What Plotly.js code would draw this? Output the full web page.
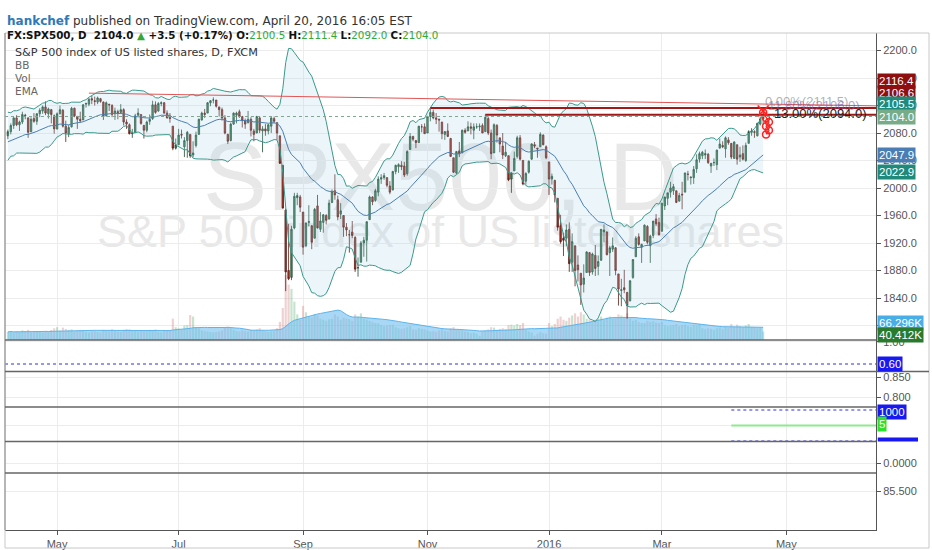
<!DOCTYPE html>
<html>
<head>
<meta charset="utf-8">
<script src="https://cdn.plot.ly/plotly-3.0.1.min.js"></script>
<style>
  html, body { margin: 0; padding: 0; background: #fff; }
  #chart { width: 932px; height: 550px; }
</style>
</head>
<body>
<div id="chart"></div>
<script>
// FX:SPX500 daily, 8 Apr 2015 - 20 Apr 2016 (one row per month)
const firstDay = '2015-04-08';
const lastDay = '2016-04-20';
const holidays = ['2015-05-25', '2015-07-03', '2015-09-07', '2015-11-26', '2015-12-25',
  '2016-01-01', '2016-01-18', '2016-02-15', '2016-03-25', '2016-05-30'];

// closes before the visible range, only used to warm up BB / EMA
const warmupClose = [2044, 2040, 2066, 2053, 2081, 2075, 2099, 2090, 2108, 2104,
  2092, 2062, 2057, 2061, 2086, 2068, 2059, 2066, 2081, 2076];

const open = [
  2076,2082,2091,2102,2092,2096,2106,2102,2082,2101,2097,2108,2112,2118,2108,2114,2105,
  2086,2108,2113,2090,2079,2089,2116,2104,2100,2099,2122,2122,2130,2127,2125,2130,2125,2105,2122,2120,
  2108,2111,2110,2114,2096,2092,2079,2081,2106,2107,2091,2084,2097,2101,2121,2112,2123,2124,2109,2103,2090,2058,
  2063,2078,2060,2069,2078,2048,2062,2078,2099,2109,2109,2124,2128,2128,2118,2114,2102,2078,2069,2093,2106,2111,
  2104,2098,2095,2100,2083,2080,2102,2083,2086,2083,2090,2101,2095,2076,2033,1968,1880,1870,1942,1986,1987,
  1965,1916,1950,1945,1927,1974,1940,1950,1960,1955,1979,1996,1983,1962,1960,1943,1932,1936,1928,1884,1892,
  1920,1924,1954,1987,1982,1994,2013,2015,2015,2003,1997,2024,2031,2033,2032,2021,2056,2075,2069,2066,2089,2089,
  2080,2104,2110,2102,2100,2096,2078,2083,2072,2044,2022,2054,2051,2084,2083,2089,2084,2089,2089,2091,
  2082,2101,2080,2051,2091,2073,2061,2047,2047,2013,2025,2046,2073,2040,2010,2023,2042,2063,2058,2060,2077,2060,
  2038,2013,2011,1985,1945,1927,1927,1940,1892,1916,1888,1876,1860,1877,1906,1878,1902,1886,1895,
  1936,1936,1906,1911,1913,1875,1851,1855,1848,1836,1870,1900,1929,1914,1923,1944,1916,1931,1955,1950,
  1937,1974,1985,1994,1996,1996,1981,1991,1994,2020,2015,2015,2028,2042,2047,2048,2049,2032,2037,2034,2058,2062,
  2057,2070,2065,2043,2063,2045,2050,2040,2065,2081,2082,2076,2093,2100.5
];
const high = [
  2085,2094,2103,2106,2098,2111,2108,2103,2103,2109,2109,2116,2120,2126,2117,2115,2107,
  2110,2120,2115,2098,2092,2118,2117,2105,2111,2122,2124,2131,2134,2133,2133,2131,2126,2126,2122,2122,
  2117,2114,2122,2116,2100,2094,2086,2108,2116,2107,2092,2098,2107,2127,2126,2125,2126,2125,2113,2109,2090,2072,
  2086,2085,2074,2083,2078,2068,2082,2101,2111,2115,2125,2128,2132,2128,2118,2117,2106,2079,2095,2110,2111,2114,
  2105,2101,2112,2103,2086,2105,2104,2090,2093,2093,2103,2104,2096,2076,2033,1970,1948,1945,1993,1993,1990,
  1965,1950,1975,1946,1971,1990,1965,1962,1962,1983,1998,2020,1989,1978,1960,1949,1939,1952,1930,1899,1923,
  1929,1951,1989,1988,1999,2017,2020,2022,2016,2010,2025,2034,2036,2039,2038,2055,2080,2076,2070,2090,2093,2094,
  2105,2116,2114,2109,2101,2096,2083,2094,2073,2044,2054,2067,2085,2087,2097,2095,2094,2094,2094,2094,
  2107,2104,2085,2094,2093,2073,2080,2067,2047,2023,2053,2076,2077,2041,2023,2040,2065,2067,2058,2081,2078,2062,
  2038,2021,2012,1985,1961,1935,1947,1950,1934,1916,1902,1876,1889,1908,1907,1906,1917,1902,1940,
  1947,1937,1916,1928,1914,1875,1868,1881,1849,1866,1896,1930,1934,1919,1947,1946,1932,1952,1962,1957,
  1978,1987,1993,2009,2006,1996,1993,2009,2022,2025,2016,2032,2049,2053,2054,2056,2051,2036,2043,2056,2072,2068,
  2075,2074,2065,2068,2063,2060,2062,2066,2084,2087,2084,2095,2104,2111.4
];
const low = [
  2071,2078,2086,2090,2083,2093,2100,2073,2081,2095,2092,2103,2108,2106,2101,2094,2079,
  2085,2107,2088,2067,2074,2088,2103,2086,2095,2099,2117,2119,2122,2120,2122,2124,2099,2104,2112,2103,
  2099,2100,2109,2091,2086,2078,2073,2080,2104,2092,2072,2081,2092,2099,2108,2111,2119,2108,2101,2095,2055,2056,
  2063,2072,2045,2044,2044,2045,2059,2078,2098,2102,2109,2119,2123,2117,2104,2098,2078,2064,2068,2092,2094,2102,
  2088,2086,2094,2075,2068,2080,2080,2052,2076,2078,2080,2094,2070,2035,1970,1850,1866,1866,1940,1975,1965,
  1903,1914,1944,1911,1927,1941,1936,1935,1947,1954,1978,1983,1953,1955,1929,1930,1906,1927,1878,1871,1892,
  1900,1893,1954,1975,1980,1988,2006,2012,2001,1991,1997,2020,2022,2026,2016,2018,2056,2068,2058,2066,2081,2079,
  2080,2097,2100,2093,2082,2071,2070,2074,2045,2022,2020,2045,2051,2079,2083,2078,2071,2086,2083,2080,
  2082,2077,2042,2051,2066,2052,2042,2045,2010,1993,2025,2043,2040,2004,2005,2021,2041,2058,2044,2060,2062,2042,
  1990,2005,1979,1938,1919,1901,1916,1878,1878,1857,1864,1830,1848,1877,1872,1874,1872,1873,1894,
  1921,1902,1872,1907,1873,1829,1828,1847,1810,1835,1868,1900,1916,1891,1923,1918,1891,1927,1945,1931,
  1937,1968,1975,1986,1990,1978,1980,1969,1994,2011,2005,2006,2022,2037,2042,2042,2035,2022,2032,2026,2058,2058,
  2044,2063,2042,2043,2034,2038,2040,2038,2065,2076,2073,2075,2091,2092
];
const close = [
  2082,2091,2102,2092,2096,2107,2105,2081,2100,2097,2108,2113,2118,2109,2115,2107,2086,
  2108,2114,2090,2080,2088,2116,2105,2100,2098,2121,2123,2129,2128,2126,2131,2126,2104,2124,2121,2107,
  2112,2110,2114,2096,2093,2079,2080,2105,2109,2094,2084,2096,2100,2121,2110,2123,2124,2109,2102,2101,2058,2063,
  2077,2077,2069,2081,2047,2051,2077,2100,2109,2107,2124,2127,2128,2119,2114,2102,2080,2068,2093,2109,2109,2104,
  2098,2093,2100,2084,2078,2104,2084,2086,2083,2092,2102,2097,2080,2036,1971,1878,1868,1940,1988,1989,1972,
  1914,1949,1951,1921,1969,1942,1952,1961,1953,1978,1995,1990,1958,1967,1943,1939,1932,1931,1882,1884,1920,
  1924,1951,1987,1980,1996,2013,2015,2018,2004,1994,2024,2033,2034,2031,2019,2053,2075,2071,2066,2090,2089,2079,
  2104,2110,2102,2100,2099,2079,2082,2075,2046,2023,2053,2050,2084,2081,2089,2087,2089,2089,2090,2080,
  2103,2080,2050,2092,2077,2064,2048,2052,2012,2022,2043,2073,2042,2006,2021,2039,2064,2061,2057,2078,2063,2044,
  2013,2017,1990,1943,1922,1924,1939,1890,1922,1880,1881,1859,1869,1907,1877,1904,1883,1893,1940,
  1939,1903,1913,1916,1880,1853,1852,1852,1829,1865,1896,1927,1918,1918,1946,1921,1930,1952,1948,1932,
  1978,1987,1993,2000,2002,1979,1989,1990,2022,2020,2016,2027,2041,2050,2052,2050,2037,2036,2037,2055,2064,2060,
  2073,2066,2045,2067,2042,2048,2042,2062,2082,2083,2081,2094,2100.5,2104
];
// volume, thousands
const volume = [
  38,42,35,40,37,45,41,48,36,39,42,40,35,43,41,47,55,
  60,45,58,52,48,50,40,44,47,45,38,36,40,42,38,35,48,44,40,50,
  42,40,38,48,52,50,45,47,40,44,45,42,48,46,50,38,36,44,42,46,100,60,
  55,50,68,70,117,110,60,55,45,42,40,38,36,38,40,45,58,62,55,48,42,40,
  45,42,40,48,46,50,55,44,42,38,40,42,55,85,150,305,260,240,180,120,95,
  160,130,110,105,120,115,100,95,90,98,100,120,110,95,105,100,98,90,120,110,125,
  100,95,90,85,80,78,70,65,68,70,72,60,55,52,55,60,65,50,48,55,52,50,
  45,40,42,38,45,50,42,40,55,60,52,48,45,40,38,32,35,30,20,40,
  45,50,60,58,48,52,55,50,70,72,68,75,70,80,48,40,35,20,30,38,32,30,
  80,65,75,100,110,95,90,105,115,125,110,130,120,100,95,90,95,100,110,
  95,105,110,100,100,120,115,110,125,100,90,95,85,80,80,90,85,88,82,80,
  85,70,65,68,70,75,65,70,72,65,62,70,68,75,55,50,55,52,48,55,58,52,
  60,58,75,62,72,65,60,68,75,62,60,55,58,40
];

// drawings on the price pane
const trendX = ['2015-05-18', '2016-06-15'];
const trendY = [2138, 2119.5];
const resistStart = ['2015-11-03', '2015-12-01'];
const resistLevel = [2116.4, 2106.6];
const fibLabels = ['0.00%(2111.5)', '11.80%(2106.0)', '13.00%(2094.0)'];
const fibLevels = [2111.5, 2106.0, 2094.0];
const fibX = ['2016-04-20', '2016-04-21', '2016-04-25'];
const scribbleX = ['2016-04-20', '2016-04-21', '2016-04-22', '2016-04-21', '2016-04-22', '2016-04-21'];
const scribbleY = [2110, 2102, 2096, 2090, 2084, 2078];

// lower panes
const pane2Level = 0.60;
const pane4Start = '2016-04-05';
const pane4Levels = [1000, 5, -1000];

const monthTicks = ['2015-05-01', '2015-07-01', '2015-09-01', '2015-11-02', '2016-01-04', '2016-03-01', '2016-05-02'];
const monthText = ['May', 'Jul', 'Sep', 'Nov', '2016', 'Mar', 'May'];

const bbLen = 20;
const emaLen = 30;
const volMaLen = 20;

function tradingDays(from, to, skip) {
  const out = [];
  const d = new Date(from + 'T00:00:00Z');
  const end = new Date(to + 'T00:00:00Z');
  while (d <= end) {
    const s = d.toISOString().slice(0, 10);
    const wd = d.getUTCDay();
    if (wd !== 0 && wd !== 6 && skip.indexOf(s) < 0) out.push(s);
    d.setUTCDate(d.getUTCDate() + 1);
  }
  return out;
}

const dates = tradingDays(firstDay, lastDay, holidays);
[open, high, low, close, volume].forEach(function (a) {
  if (a.length !== dates.length) throw new Error('length ' + a.length + ' vs ' + dates.length);
});

// Bollinger bands (20, 2) and EMA
const allClose = warmupClose.concat(close);
const bbUpper = [], bbLower = [], emaLine = [];
let ema = allClose[0];
const k = 2 / (emaLen + 1);
allClose.forEach(function (c, i) {
  ema = i === 0 ? c : c * k + ema * (1 - k);
  if (i < warmupClose.length) return;
  const win = allClose.slice(Math.max(0, i - bbLen + 1), i + 1);
  const m = win.reduce((s, v) => s + v, 0) / win.length;
  const sd = Math.sqrt(win.reduce((s, v) => s + (v - m) * (v - m), 0) / win.length);
  bbUpper.push(m + 2 * sd);
  bbLower.push(m - 2 * sd);
  emaLine.push(ema);
});

const volMa = volume.map(function (v, i) {
  const win = volume.slice(Math.max(0, i - volMaLen + 1), i + 1);
  return win.reduce((s, x) => s + x, 0) / win.length;
});
const volColors = close.map((c, i) => c >= open[i] ? 'rgba(110,185,130,0.4)' : 'rgba(215,140,140,0.4)');

const xStart = '2015-04-07';
const xEnd = '2016-06-15';
const lastClose = close[close.length - 1];

// pixel helpers for layout positions (plot area is x 5..876, y 33..530)
const px = x => (x - 5) / 871;
const py = y => (530 - y) / 497;

const teal = '#3b998b';
const darkRed = '#a01818';
const tickFont = {family: 'Liberation Sans, Arial, sans-serif', size: 11, color: '#555'};

const traces = [
  {x: dates, y: volume, type: 'bar', yaxis: 'y', marker: {color: volColors}, hoverinfo: 'skip'},
  {x: dates, y: volMa, type: 'scatter', mode: 'lines', yaxis: 'y', fill: 'tozeroy',
    fillcolor: 'rgba(115,192,240,0.62)', line: {color: 'rgba(95,180,235,1)', width: 1}, hoverinfo: 'skip'},
  {x: dates, y: bbLower, type: 'scatter', mode: 'lines', yaxis: 'y2', line: {color: teal, width: 1}, hoverinfo: 'skip'},
  {x: dates, y: bbUpper, type: 'scatter', mode: 'lines', yaxis: 'y2', fill: 'tonexty',
    fillcolor: 'rgba(170,215,230,0.22)', line: {color: teal, width: 1}, hoverinfo: 'skip'},
  {x: dates, y: emaLine, type: 'scatter', mode: 'lines', yaxis: 'y2', line: {color: '#4a7fb5', width: 1}, hoverinfo: 'skip'},
  {x: dates, open: open, high: high, low: low, close: close, type: 'candlestick', yaxis: 'y2',
    increasing: {line: {color: '#1f4a30', width: 0.8}, fillcolor: '#3f9263'},
    decreasing: {line: {color: '#5a1a14', width: 0.8}, fillcolor: '#bb3327'},
    whiskerwidth: 0, hoverinfo: 'skip'},
  {x: trendX, y: trendY, type: 'scatter', mode: 'lines', yaxis: 'y2', line: {color: '#e25555', width: 1}},
  {x: [resistStart[0], xEnd], y: [resistLevel[0], resistLevel[0]], type: 'scatter', mode: 'lines', yaxis: 'y2', line: {color: darkRed, width: 2}},
  {x: [resistStart[1], xEnd], y: [resistLevel[1], resistLevel[1]], type: 'scatter', mode: 'lines', yaxis: 'y2', line: {color: darkRed, width: 2}},
  {x: scribbleX, y: scribbleY, type: 'scatter', mode: 'lines+markers', yaxis: 'y2',
    line: {color: '#ff2020', width: 1.2}, marker: {symbol: 'circle-open', size: 7, color: '#ff2020', line: {width: 1.5}}},
  {x: [scribbleX[0]], y: [scribbleY[0] + 2], type: 'scatter', mode: 'markers', yaxis: 'y2',
    marker: {symbol: 'x-thin-open', size: 11, color: '#ff2020', line: {width: 1.5, color: '#ff2020'}}},
  {x: [xStart, xEnd], y: [pane2Level, pane2Level], type: 'scatter', mode: 'lines', yaxis: 'y3', line: {color: '#3030d0', width: 1, dash: 'dot'}},
  {x: [xStart], y: [0.82], type: 'scatter', mode: 'markers', yaxis: 'y4', marker: {opacity: 0}},
  {x: [pane4Start, xEnd], y: [pane4Levels[0], pane4Levels[0]], type: 'scatter', mode: 'lines', yaxis: 'y5', line: {color: '#3030d0', width: 1, dash: 'dot'}},
  {x: [pane4Start, xEnd], y: [pane4Levels[1], pane4Levels[1]], type: 'scatter', mode: 'lines', yaxis: 'y5', line: {color: '#8eea8e', width: 2}},
  {x: [pane4Start, xEnd], y: [pane4Levels[2], pane4Levels[2]], type: 'scatter', mode: 'lines', yaxis: 'y5', line: {color: '#3030d0', width: 1, dash: 'dot'}},
  {x: [xStart], y: [0], type: 'scatter', mode: 'markers', yaxis: 'y6', marker: {opacity: 0}},
  {x: [xStart], y: [85.5], type: 'scatter', mode: 'markers', yaxis: 'y7', marker: {opacity: 0}}
];

function paneAxis(domain, range, tickvals, fmt) {
  return {
    domain: domain, range: range, anchor: 'x', side: 'right', tickvals: tickvals, tickformat: fmt,
    showgrid: true, gridcolor: '#ececec', zeroline: false, ticks: 'outside', ticklen: 4,
    tickcolor: '#555', tickfont: tickFont, showline: true, linecolor: '#555', fixedrange: true
  };
}

function tag(text, y, yref, bg, shift) {
  return {
    text: text, x: 1, xref: 'paper', xanchor: 'left', xshift: 1, y: y, yref: yref, yshift: shift || 0,
    showarrow: false, bgcolor: bg, borderpad: 1,
    font: {family: 'Liberation Sans, Arial, sans-serif', size: 11.5, color: '#fff'}
  };
}

const green = '#34a834';

const annotations = [
  {text: "<b><span style='color:#2d7ab8'>hankchef</span></b> published on TradingView.com, April 20, 2016 16:05 EST",
    x: 0, xref: 'paper', xanchor: 'left', y: py(12), yref: 'paper', showarrow: false,
    font: {family: 'DejaVu Sans, Verdana, sans-serif', size: 12, color: '#333'}},
  {text: "<b>FX:SPX500, D  2104.0 <span style='color:" + green + "'>▲</span> +3.5 (+0.17%) O:</b><span style='color:" + green + "'>2100.5</span>" +
    " <b>H:</b><span style='color:" + green + "'>2111.4</span> <b>L:</b><span style='color:" + green + "'>2092.0</span>" +
    " <b>C:</b><span style='color:" + green + "'>2104.0</span>",
    x: 0, xref: 'paper', xanchor: 'left', y: py(27), yref: 'paper', showarrow: false,
    font: {family: 'DejaVu Sans, Verdana, sans-serif', size: 10.3, color: '#111'}},
  {text: 'S&P 500 index of US listed shares, D, FXCM', x: px(13), xref: 'paper', xanchor: 'left',
    y: py(44), yref: 'paper', showarrow: false, font: {family: 'DejaVu Sans, sans-serif', size: 11.2, color: '#333'}},
  {text: 'BB', x: px(13), xref: 'paper', xanchor: 'left', y: py(57), yref: 'paper', showarrow: false,
    font: {family: 'DejaVu Sans, sans-serif', size: 10.5, color: '#666'}},
  {text: 'Vol', x: px(13), xref: 'paper', xanchor: 'left', y: py(70), yref: 'paper', showarrow: false,
    font: {family: 'DejaVu Sans, sans-serif', size: 10.5, color: '#666'}},
  {text: 'EMA', x: px(13), xref: 'paper', xanchor: 'left', y: py(83), yref: 'paper', showarrow: false,
    font: {family: 'DejaVu Sans, sans-serif', size: 10.5, color: '#666'}},
  {text: fibLabels[0], x: fibX[0], y: fibLevels[0], xref: 'x', yref: 'y2', xanchor: 'left', yanchor: 'bottom',
    showarrow: false, font: {family: 'Liberation Sans, Arial, sans-serif', size: 13, color: 'rgba(110,110,110,0.55)'}},
  {text: fibLabels[1], x: fibX[1], y: fibLevels[1], xref: 'x', yref: 'y2', xanchor: 'left', yanchor: 'bottom',
    showarrow: false, font: {family: 'Liberation Sans, Arial, sans-serif', size: 13, color: 'rgba(110,100,190,0.6)'}},
  {text: fibLabels[2], x: fibX[2], y: fibLevels[2], xref: 'x', yref: 'y2', xanchor: 'left', yanchor: 'bottom',
    showarrow: false, font: {family: 'Liberation Sans, Arial, sans-serif', size: 13, color: '#222'}},
  tag('2116.4', 2116.4, 'y2', '#8e0f0f', 27),
  tag('2106.6', 2106.6, 'y2', '#8e0f0f', 21.7),
  tag('2105.5', 2105.5, 'y2', '#1f8a7c', 11.5),
  tag('2104.0', 2104.0, 'y2', '#78ab88', 0),
  tag('2047.9', 2047.9, 'y2', '#4a7db3', 0),
  tag('2022.9', 2022.9, 'y2', '#1f8a7c', 0),
  tag('66.296K', py(323), 'paper', '#49aee6', 0),
  tag('40.412K', py(335), 'paper', '#2a7a2e', 0),
  tag('0.60', py(364), 'paper', '#1818f0', 0),
  tag('1000', py(420), 'paper', '#1818f0', 0),
  tag('5', py(432), 'paper', '#2ee02e', 0)
];

const sepColor = '#666';
const shapes = [
  {type: 'rect', xref: 'paper', yref: 'paper', x0: 0.18, x1: 0.82, y0: py(205), y1: py(130), layer: 'below',
    line: {width: 0}, fillcolor: 'rgba(0,0,0,0)',
    label: {text: 'SPX500, D', textposition: 'middle center', font: {family: 'Liberation Sans, Arial, sans-serif', size: 96, color: '#e8e8e8'}}},
  {type: 'rect', xref: 'paper', yref: 'paper', x0: 0.02, x1: 0.98, y0: py(250), y1: py(205), layer: 'below',
    line: {width: 0}, fillcolor: 'rgba(0,0,0,0)',
    label: {text: 'S&P 500 index of US listed shares', textposition: 'middle center', font: {family: 'Liberation Sans, Arial, sans-serif', size: 45, color: '#e8e8e8'}}},
  {type: 'line', xref: 'paper', yref: 'y2', x0: 0, x1: 1, y0: lastClose, y1: lastClose,
    line: {color: '#7fa68f', width: 1, dash: 'dot'}},
  {type: 'rect', xref: 'paper', yref: 'paper', x0: 0, x1: px(929), y0: py(548), y1: 1, line: {color: '#c8c8c8', width: 1}},
  {type: 'line', xref: 'paper', yref: 'paper', x0: 0, x1: 0, y0: 0, y1: 1, line: {color: '#888', width: 1}},
  {type: 'line', xref: 'paper', yref: 'paper', x0: 0, x1: 1, y0: py(340), y1: py(340), line: {color: sepColor, width: 1.5}},
  {type: 'line', xref: 'paper', yref: 'paper', x0: 0, x1: px(929), y0: py(371.5), y1: py(371.5), line: {color: sepColor, width: 1.5}},
  {type: 'line', xref: 'paper', yref: 'paper', x0: 0, x1: 1, y0: py(407), y1: py(407), line: {color: sepColor, width: 1.5}},
  {type: 'line', xref: 'paper', yref: 'paper', x0: 0, x1: 1, y0: py(441.5), y1: py(441.5), line: {color: sepColor, width: 1.5}},
  {type: 'line', xref: 'paper', yref: 'paper', x0: 0, x1: 1, y0: py(473), y1: py(473), line: {color: sepColor, width: 1.5}},
  {type: 'rect', xref: 'paper', yref: 'paper', x0: 1.002, x1: px(918), y0: py(441.5), y1: py(437.5),
    line: {width: 0}, fillcolor: '#1818f0'}
];

const layout = {
  width: 932, height: 550,
  margin: {l: 5, r: 56, t: 33, b: 20},
  paper_bgcolor: '#fff', plot_bgcolor: '#fff',
  showlegend: false,
  hovermode: false,
  bargap: 0.25,
  xaxis: {
    type: 'date', range: [xStart, xEnd], anchor: 'y7',
    rangebreaks: [{bounds: ['sat', 'mon']}, {values: holidays}],
    rangeslider: {visible: false},
    tickvals: monthTicks, ticktext: monthText, tickfont: tickFont,
    ticks: 'outside', ticklen: 4, tickcolor: '#555',
    showgrid: true, gridcolor: '#ececec', showline: true, linecolor: '#555', fixedrange: true
  },
  yaxis: {domain: [py(340), 1], range: [0, 1440], visible: false, fixedrange: true},
  yaxis2: {
    domain: [py(340), 1], overlaying: 'y', anchor: 'x', side: 'right', range: [1778.9, 2225.5],
    dtick: 40, tick0: 0, tickformat: '.1f', tickfont: tickFont,
    ticks: 'outside', ticklen: 4, tickcolor: '#555',
    showgrid: true, gridcolor: '#ececec', zeroline: false, showline: true, linecolor: '#555', fixedrange: true
  },
  yaxis3: paneAxis([py(371.5), py(340)], [0.4655, 1.0305], [1.0], '.2f'),
  yaxis4: paneAxis([py(407), py(371.5)], [0.775, 0.8638], [0.8, 0.85], '.3f'),
  yaxis5: Object.assign(paneAxis([py(441.5), py(407)], [-1032, 1194], [5], ''), {showticklabels: false, ticks: ''}),
  yaxis6: paneAxis([py(473), py(441.5)], [-0.317, 0.683], [0], '.4f'),
  yaxis7: paneAxis([0, py(473)], [84.816, 85.816], [85.5], '.3f'),
  annotations: annotations,
  shapes: shapes
};

Plotly.newPlot('chart', traces, layout, {displayModeBar: false, staticPlot: true});
</script>
</body>
</html>
